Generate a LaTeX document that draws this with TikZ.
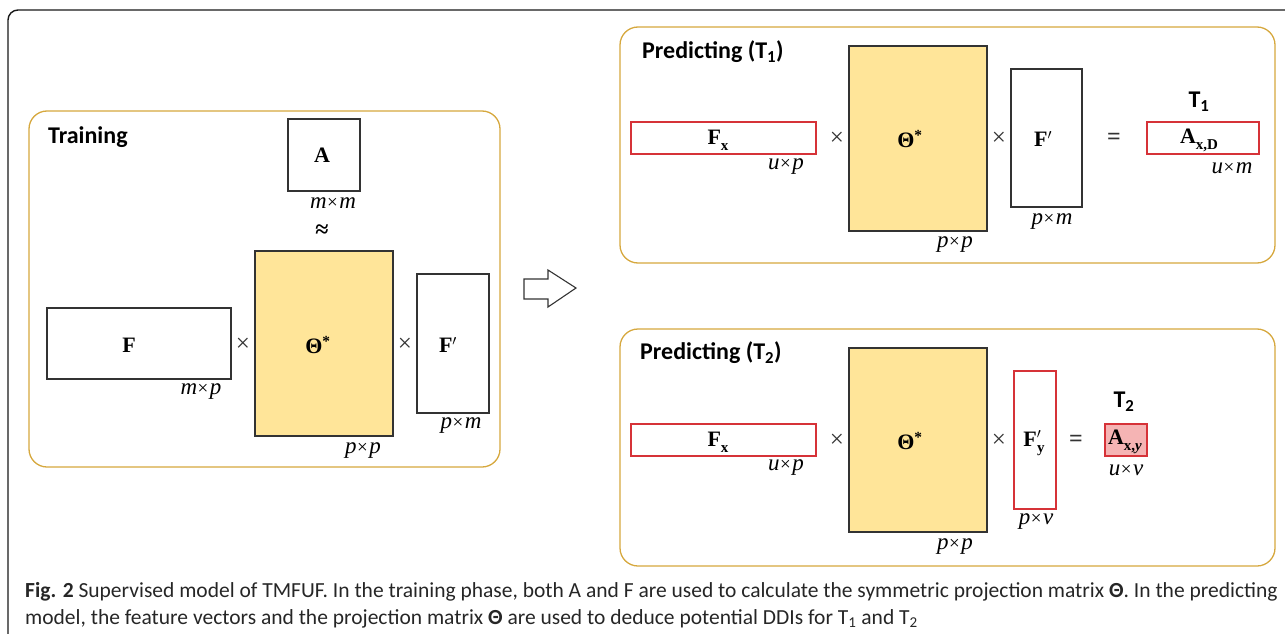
\documentclass[tikz,border=0pt]{standalone}
\usepackage{fontspec}
\setmainfont{Liberation Serif}
\newfontfamily\calib{Carlito}
\definecolor{goldc}{RGB}{214,168,62}
\definecolor{yelc}{RGB}{255,229,153}
\definecolor{redc}{RGB}{214,50,56}
\definecolor{pinkc}{RGB}{245,180,180}
\newcommand{\dm}[2]{\textit{#1}\kern0.5pt{\fontsize{19}{19}\selectfont ×}\kern1.5pt\textit{#2}}
\newcommand{\sbb}[1]{\raisebox{-0.28em}{\fontsize{15}{15}\selectfont\bfseries #1}}
\begin{document}
\begin{tikzpicture}[x=1pt,y=-1pt,
  panel/.style={draw=goldc,line width=1.3pt,rounded corners=18pt},
  mat/.style={draw=black!80,line width=1.2pt,inner sep=0pt},
  redmat/.style={draw=redc,line width=1.2pt,inner sep=0pt},
  yel/.style={mat,fill=yelc},
  lab/.style={font=\bfseries\fontsize{22}{22}\selectfont,inner sep=0pt},
  dimlab/.style={font=\fontsize{23}{23}\selectfont,inner sep=0pt},
  op/.style={font=\fontsize{25}{25}\selectfont,inner sep=0pt,text=black!80},
  ttl/.style={font=\calib\bfseries\fontsize{24}{24}\selectfont,inner sep=0pt},
  capt/.style={font=\calib\fontsize{21.5}{21.5}\selectfont,inner sep=0pt,anchor=west,text=black!85}
]
\useasboundingbox (0,0) rectangle (1285,634);
% outer frame
\draw[line width=1.4pt,black!90,rounded corners=10pt] (8,640) -- (8,10) -- (1290,10);

% ---------- Training panel ----------
\draw[panel] (29,111) rectangle (500,467);
\node[ttl,anchor=west] (ttrain) at (48,137) {Training};
\node[mat,minimum width=72,minimum height=72] (A) at (324,155) {};
\node[lab] (Alab) at (322,155) {A};
\node[dimlab] (dA) at (333,203) {\dm{m}{m}};
\node[op,font=\bfseries\fontsize{24}{24}\selectfont,text=black] (approx) at (322,231) {≈};
\node[mat,minimum width=184,minimum height=71] (F) at (139,343.5) {};
\node[lab] (Flab) at (129,345) {F};
\node[dimlab] (dF) at (201,392) {\dm{m}{p}};
\node[op] (x1) at (243,345) {×};
\node[yel,minimum width=138,minimum height=185] (Th) at (324,343.5) {};
\node[lab] (Thlab) at (318,345) {Θ\textsuperscript{*}};
\node[dimlab] (dTh) at (363,451) {\dm{p}{p}};
\node[op] (x2) at (405,345) {×};
\node[mat,minimum width=72,minimum height=139] (Fp) at (453,343.5) {};
\node[lab] (Fplab) at (448,345) {F$'$};
\node[dimlab] (dFp) at (461,426) {\dm{p}{m}};

% big arrow
\draw[line width=1.1pt,black!80,line join=miter]
  (524,279) -- (548,279) -- (548,270) -- (576,288) -- (548,307) -- (548,299) -- (524,299) -- cycle;

% ---------- Predicting T1 ----------
\draw[panel] (620,27) rectangle (1275,263);
\node[ttl,anchor=west] (tp1) at (642,52) {Predicting (T\textsubscript{1})};
\node[redmat,minimum width=185,minimum height=32] (Fx1) at (723.5,138) {};
\node[lab] (Fx1lab) at (718,140) {F\sbb{x}};
\node[dimlab] (dFx1) at (786,167) {\dm{u}{p}};
\node[op] (x3) at (837,139) {×};
\node[yel,minimum width=138,minimum height=185] (Th1) at (918,138.5) {};
\node[lab] (Th1lab) at (910,139) {Θ\textsuperscript{*}};
\node[dimlab] (dTh1) at (955,245) {\dm{p}{p}};
\node[op] (x4) at (999,139) {×};
\node[mat,minimum width=71,minimum height=138] (Fp1) at (1046.5,138) {};
\node[lab] (Fp1lab) at (1043,139) {F$'$};
\node[dimlab] (dFp1) at (1052,222) {\dm{p}{m}};
\node[op,font=\bfseries\fontsize{24}{24}\selectfont] (eq1) at (1114,139) {=};
\node[ttl] (T1) at (1199,102) {T\textsubscript{1}};
\node[redmat,minimum width=112,minimum height=32] (AxD) at (1203,138) {};
\node[lab] (AxDlab) at (1199,140) {A\sbb{x,D}};
\node[dimlab] (dAxD) at (1232,168) {\dm{u}{m}};

% ---------- Predicting T2 ----------
\draw[panel] (620,329) rectangle (1275,566);
\node[ttl,anchor=west] (tp2) at (640,353) {Predicting (T\textsubscript{2})};
\node[redmat,minimum width=185,minimum height=32] (Fx2) at (723.5,440) {};
\node[lab] (Fx2lab) at (718,442) {F\sbb{x}};
\node[dimlab] (dFx2) at (786,468) {\dm{u}{p}};
\node[op] (x5) at (837,441) {×};
\node[yel,minimum width=138,minimum height=184] (Th2) at (918,440) {};
\node[lab] (Th2lab) at (910,441) {Θ\textsuperscript{*}};
\node[dimlab] (dTh2) at (955,547) {\dm{p}{p}};
\node[op] (x6) at (999,441) {×};
\node[redmat,minimum width=42,minimum height=138] (Fy) at (1035,440) {};
\node[lab] (Fylab) at (1034,443) {F$'$\kern-4pt\sbb{y}};
\node[dimlab] (dFy) at (1036,522) {\dm{p}{v}};
\node[op,font=\bfseries\fontsize{24}{24}\selectfont] (eq2) at (1076,441) {=};
\node[ttl] (T2) at (1124,402) {T\textsubscript{2}};
\node[redmat,fill=pinkc,minimum width=42,minimum height=32] (Axy) at (1126,440) {};
\node[lab] (Axylab) at (1125,442) {A\sbb{x,\textit{y}}};
\node[dimlab] (dAxy) at (1126,470) {\dm{u}{v}};

% ---------- caption ----------
\node[capt] (cap1) at (25,592) {\textbf{Fig. 2} Supervised model of TMFUF. In the training phase, both A and F are used to calculate the symmetric projection matrix \textbf{Θ}. In the predicting};
\node[capt] (cap2) at (25,619) {model, the feature vectors and the projection matrix \textbf{Θ} are used to deduce potential DDIs for T\textsubscript{1} and T\textsubscript{2}};
\end{tikzpicture}
\end{document}
